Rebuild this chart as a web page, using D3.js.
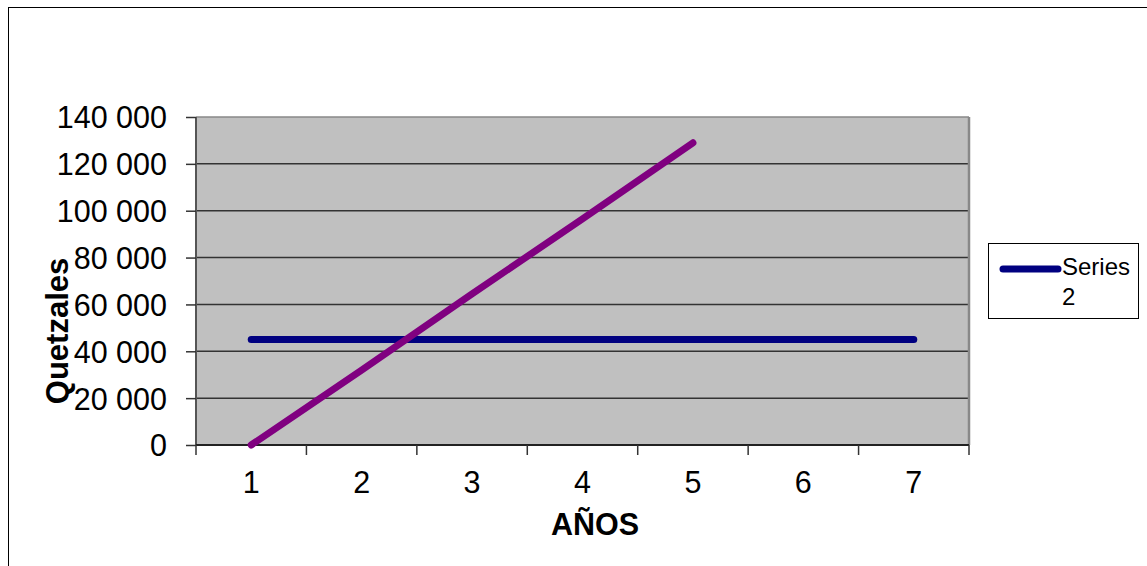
<!DOCTYPE html>
<html><head><meta charset="utf-8">
<script src="https://cdn.jsdelivr.net/npm/d3@7"></script>
<style>body{margin:0;background:#fff}svg{display:block}text{font-family:"Liberation Sans",Arial,sans-serif}</style>
</head><body>
<svg id="c" width="1147" height="566"></svg>
<script>
const categories = ["1","2","3","4","5","6","7"];
const series1 = [0, 32000, 64500, 96500, 129000, null, null];
const series2 = [45000, 45000, 45000, 45000, 45000, 45000, 45000];
const yTicks = [0,20000,40000,60000,80000,100000,120000,140000];
const legendLabels = ["Series", "2"];

const svg = d3.select("#c");
const L=196, R=969, T=117, B=445;
svg.append("rect").attr("x",8.5).attr("y",7.5).attr("width",1200).attr("height",700)
  .attr("fill","#fff").attr("stroke","#000").attr("stroke-width",1);

const x = d3.scaleBand().domain(categories).range([L,R]).padding(0);
const y = d3.scaleLinear().domain([0,140000]).range([B,T]);
const fmt = v => d3.format(",")(v).replace(/,/g," ");

svg.append("rect").attr("x",L).attr("y",T).attr("width",R-L).attr("height",B-T).attr("fill","#c0c0c0");
// gridlines
svg.append("g").selectAll("line").data(yTicks.filter(v=>v>0)).join("line")
  .attr("x1",L).attr("x2",R).attr("y1",d=>y(d)).attr("y2",d=>y(d))
  .attr("stroke",d=>d===140000?"#888":"#333").attr("stroke-width",1.5);
// right border
svg.append("line").attr("x1",R).attr("x2",R).attr("y1",T).attr("y2",B).attr("stroke","#888").attr("stroke-width",2.5);

// y axis
const ya = svg.append("g").attr("transform",`translate(${L},0)`)
  .call(d3.axisLeft(y).tickValues(yTicks).tickFormat(fmt).tickSize(10).tickPadding(19));
ya.select(".domain").attr("stroke","#555").attr("stroke-width",2).attr("d",`M0,${T}V${B}`);
ya.selectAll(".tick line").attr("stroke","#333").attr("stroke-width",1.5);
ya.selectAll("text").attr("font-size",30.5).attr("fill","#000").attr("dy","0.36em");

// x axis
const xa = svg.append("g").attr("transform",`translate(0,${B})`);
xa.append("line").attr("x1",L).attr("x2",R).attr("y1",0).attr("y2",0).attr("stroke","#222").attr("stroke-width",2);
const bounds = categories.map(c=>x(c)).concat([R]);
xa.selectAll("line.t").data(bounds).join("line").attr("class","t")
  .attr("x1",d=>d).attr("x2",d=>d).attr("y1",0).attr("y2",10).attr("stroke","#333").attr("stroke-width",1.5);
xa.selectAll("text").data(categories).join("text")
  .attr("x",d=>x(d)+x.bandwidth()/2).attr("y",48).attr("text-anchor","middle")
  .attr("font-size",30.5).attr("fill","#000").text(d=>d);

// series lines
const line = d3.line().defined(d=>d.v!=null).x(d=>x(d.c)+x.bandwidth()/2).y(d=>y(d.v));
const mk = arr => categories.map((c,i)=>({c, v:arr[i]}));
svg.append("path").datum(mk(series2)).attr("d",line).attr("fill","none")
  .attr("stroke","#000080").attr("stroke-width",7).attr("stroke-linecap","round").attr("stroke-linejoin","round");
svg.append("path").datum(mk(series1)).attr("d",line).attr("fill","none")
  .attr("stroke","#800080").attr("stroke-width",7).attr("stroke-linecap","round").attr("stroke-linejoin","round");

// axis titles
svg.append("text").attr("transform","translate(68,331) rotate(-90)").attr("text-anchor","middle")
  .attr("font-size",31).attr("font-weight","bold").text("Quetzales");
svg.append("text").attr("x",595).attr("y",535).attr("text-anchor","middle")
  .attr("font-size",30.5).attr("font-weight","bold").text("AÑOS");

// legend
const lg = svg.append("g");
lg.append("rect").attr("x",988.5).attr("y",243.5).attr("width",150).attr("height",75)
  .attr("fill","#fff").attr("stroke","#000").attr("stroke-width",1);
lg.append("line").attr("x1",1003).attr("x2",1058).attr("y1",269).attr("y2",269)
  .attr("stroke","#000080").attr("stroke-width",7).attr("stroke-linecap","round");
lg.selectAll("text").data(legendLabels).join("text")
  .attr("x",1062).attr("y",(d,i)=>275+i*30).attr("font-size",24).attr("fill","#000").text(d=>d);
</script>
</body></html>
